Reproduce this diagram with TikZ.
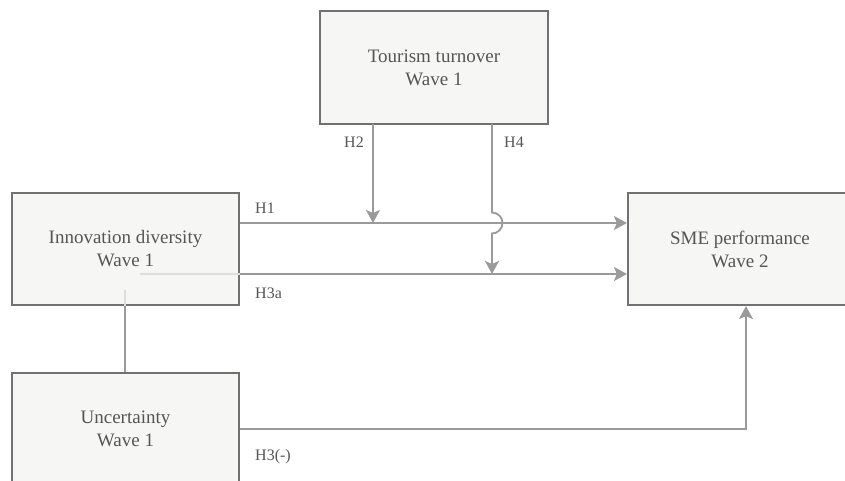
\documentclass[tikz,border=0pt]{standalone}
\usepackage{fontspec}
\setmainfont{Liberation Serif}
\usetikzlibrary{arrows.meta}
\definecolor{linec}{HTML}{9A9A9A}
\definecolor{boxc}{HTML}{727070}
\definecolor{fillc}{HTML}{F6F6F4}
\definecolor{textc}{HTML}{555555}
\definecolor{faint}{HTML}{DDDDDD}
\begin{document}
\begin{tikzpicture}[x=1pt,y=-1pt,
  box/.style={draw=boxc,fill=fillc,line width=2.2pt,minimum width=227pt,minimum height=112pt,
    inner sep=0pt,align=center,text=textc,font=\fontsize{19}{23}\selectfont},
  conn/.style={draw=linec,line width=1.8pt},
  arr/.style={conn,-{Stealth[length=13pt,width=14pt,inset=3pt]}},
  hlab/.style={text=textc,font=\fontsize{16}{19}\selectfont,anchor=west,inner sep=0pt}]
\clip (0,0) rectangle (845,481);
\fill[white] (0,0) rectangle (845,481);
\node[box,minimum width=228pt,minimum height=113pt] (tour) at (434,67.5) {Tourism turnover\\Wave 1};
\node[box] (inno) at (125.5,249) {Innovation diversity\\Wave 1};
\node[box] (unc) at (125.5,429) {Uncertainty\\Wave 1};
\node[box,minimum width=224pt] (sme) at (740,249) {SME performance\\Wave 2};
% faint inner parts
\coordinate (fa) at (140,274);
\coordinate (fb) at (125,290);
\draw[faint,line width=1.5pt] (fa) -- ([yshift=-25pt]inno.east);
\draw[faint,line width=1.5pt] (fb) -- (inno.south -| fb);
\draw[conn] (inno.south -| fb) -- (unc.north -| fb);
% H1 and H3a
\draw[arr] ([yshift=26pt]inno.east) -- ([yshift=26pt]sme.west);
\draw[arr] ([yshift=-25pt]inno.east) -- ([yshift=-25pt]sme.west);
% H2
\coordinate (h2t) at (373,124);
\coordinate (h2b) at (373,223);
\draw[arr] (h2t) -- (h2b);
% H4 with hop
\coordinate (h4t) at (492,124);
\coordinate (h4a) at (492,212.5);
\coordinate (h4b) at (492,274);
\draw[arr] (h4t) -- (h4a) arc[start angle=90,end angle=-90,radius=10.5pt] -- (h4b);
% H3(-)
\draw[arr] (unc.east) -| ([xshift=6pt]sme.south);
% labels
\node[hlab] (l1) at (255,208) {H1};
\node[hlab] (l3a) at (255,293) {H3a};
\node[hlab] (l3) at (255,457) {H3(-)};
\node[hlab] (l2) at (344,142) {H2};
\node[hlab] (l4) at (504,142) {H4};
\end{tikzpicture}
\end{document}
